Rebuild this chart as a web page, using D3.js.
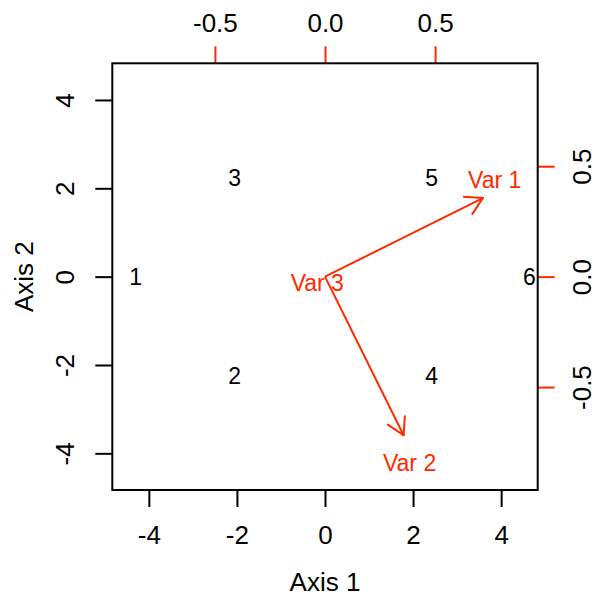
<!DOCTYPE html>
<html>
<head>
<meta charset="utf-8">
<script src="https://cdn.jsdelivr.net/npm/d3@7"></script>
<style>
  body { margin: 0; background: #fff; }
  svg text { font-family: "Liberation Sans", Arial, Helvetica, sans-serif; }
</style>
</head>
<body>
<div id="chart"></div>
<script>
// Sample scores (black numbers)
const obsLabels = ["1", "2", "3", "4", "5", "6"];
const obsX = [-4.30, -2.05, -2.05, 2.42, 2.42, 4.64];
const obsY = [0.00, -2.25, 2.23, -2.25, 2.23, 0.00];

// Variable loadings (red arrows)
const varLabels = ["Var 1", "Var 2", "Var 3"];
const arrowX = [0.717, 0.357, 0.0];
const arrowY = [0.356, -0.718, 0.0];
const labelX = [0.771, 0.384, -0.035];
const labelY = [0.440, -0.841, -0.026];

// Tick values
const scoreTicks = [-4, -2, 0, 2, 4];
const loadTicks = [-0.5, 0.0, 0.5];

const W = 597, H = 596;
const pLeft = 112.3, pRight = 537.7, pTop = 63.3, pBottom = 490;
const red = "#ff2a00";
const axisFont = 26, textFont = 23;

// R-style labels with a plain hyphen for negatives
const fmtInt = d => d3.format("d")(d).replace("\u2212", "-");
const fmtOne = d => d3.format(".1f")(d).replace("\u2212", "-");

const svg = d3.select("#chart").append("svg")
  .attr("width", W)
  .attr("height", H);

const x = d3.scaleLinear().domain([-4.83, 4.83]).range([pLeft, pRight]);
const y = d3.scaleLinear().domain([-4.83, 4.83]).range([pBottom, pTop]);
const x2 = d3.scaleLinear().domain([-0.966, 0.966]).range([pLeft, pRight]);
const y2 = d3.scaleLinear().domain([-0.966, 0.966]).range([pBottom, pTop]);

// Bottom axis
const gB = svg.append("g")
  .attr("transform", `translate(0, ${pBottom})`)
  .call(d3.axisBottom(x).tickValues(scoreTicks).tickSize(17).tickPadding(19).tickFormat(fmtInt));
gB.select(".domain").remove();
gB.selectAll("line").attr("stroke", "#000").attr("stroke-width", 2);
gB.selectAll("text").style("font-size", axisFont + "px").attr("fill", "#000");

// Left axis, labels parallel to axis
const gL = svg.append("g")
  .attr("transform", `translate(${pLeft}, 0)`)
  .call(d3.axisLeft(y).tickValues(scoreTicks).tickSize(17).tickFormat(fmtInt));
gL.select(".domain").remove();
gL.selectAll("line").attr("stroke", "#000").attr("stroke-width", 2);
gL.selectAll("text")
  .attr("x", null).attr("dy", null)
  .attr("text-anchor", "middle")
  .attr("transform", "translate(-38, 0) rotate(-90)")
  .style("font-size", axisFont + "px").attr("fill", "#000");

// Top axis (loadings)
const gT = svg.append("g")
  .attr("transform", `translate(0, ${pTop})`)
  .call(d3.axisTop(x2).tickValues(loadTicks).tickSize(17).tickPadding(14).tickFormat(fmtOne));
gT.select(".domain").remove();
gT.selectAll("line").attr("stroke", red).attr("stroke-width", 2);
gT.selectAll("text").attr("dy", null).style("font-size", axisFont + "px").attr("fill", "#000");

// Right axis (loadings)
const gR = svg.append("g")
  .attr("transform", `translate(${pRight}, 0)`)
  .call(d3.axisRight(y2).tickValues(loadTicks).tickSize(17).tickFormat(fmtOne));
gR.select(".domain").remove();
gR.selectAll("line").attr("stroke", red).attr("stroke-width", 2);
gR.selectAll("text")
  .attr("x", null).attr("dy", null)
  .attr("text-anchor", "middle")
  .attr("transform", "translate(53, 0) rotate(-90)")
  .style("font-size", axisFont + "px").attr("fill", "#000");

// Axis titles
svg.append("text")
  .attr("x", (pLeft + pRight) / 2)
  .attr("y", 591)
  .attr("text-anchor", "middle")
  .style("font-size", axisFont + "px")
  .text("Axis 1");

svg.append("text")
  .attr("transform", `translate(33, ${(pTop + pBottom) / 2}) rotate(-90)`)
  .attr("text-anchor", "middle")
  .style("font-size", axisFont + "px")
  .text("Axis 2");

// Plot box
svg.append("rect")
  .attr("x", pLeft).attr("y", pTop)
  .attr("width", pRight - pLeft).attr("height", pBottom - pTop)
  .attr("fill", "none")
  .attr("stroke", "#000")
  .attr("stroke-width", 2);

// Observation labels
svg.selectAll(".obs")
  .data(obsLabels)
  .enter()
  .append("text")
  .attr("class", "obs")
  .attr("x", (d, i) => x(obsX[i]))
  .attr("y", (d, i) => y(obsY[i]))
  .attr("dy", "0.36em")
  .attr("text-anchor", "middle")
  .style("font-size", textFont + "px")
  .attr("fill", "#000")
  .text(d => d);

// Variable labels
svg.selectAll(".var")
  .data(varLabels)
  .enter()
  .append("text")
  .attr("class", "var")
  .attr("x", (d, i) => x2(labelX[i]))
  .attr("y", (d, i) => y2(labelY[i]))
  .attr("dy", "0.36em")
  .attr("text-anchor", "middle")
  .style("font-size", textFont + "px")
  .attr("fill", red)
  .text(d => d);

// Arrows
const headLen = 19, headAng = Math.PI / 6;
varLabels.forEach((v, i) => {
  const x0 = x2(0), y0 = y2(0);
  const x1 = x2(arrowX[i]), y1 = y2(arrowY[i]);
  if (Math.hypot(x1 - x0, y1 - y0) < 1) return;
  svg.append("line")
    .attr("x1", x0).attr("y1", y0)
    .attr("x2", x1).attr("y2", y1)
    .attr("stroke", red)
    .attr("stroke-width", 2);
  const a = Math.atan2(y1 - y0, x1 - x0);
  [a + Math.PI - headAng, a + Math.PI + headAng].forEach(b => {
    svg.append("line")
      .attr("x1", x1).attr("y1", y1)
      .attr("x2", x1 + headLen * Math.cos(b))
      .attr("y2", y1 + headLen * Math.sin(b))
      .attr("stroke", red)
      .attr("stroke-width", 2)
      .attr("stroke-linecap", "round");
  });
});
</script>
</body>
</html>
